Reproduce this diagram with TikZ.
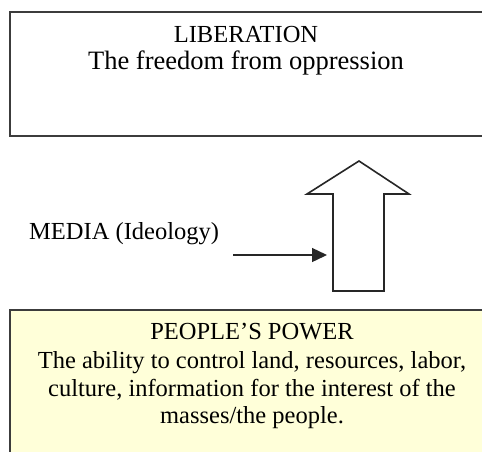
\documentclass[tikz,border=0pt]{standalone}
\usepackage{fontspec}
\setmainfont{Liberation Serif}
\usetikzlibrary{arrows.meta}
\definecolor{boxline}{RGB}{60,60,60}
\definecolor{paleyellow}{RGB}{255,255,217}
\tikzset{
  framebox/.style={draw=boxline, line width=1.6pt},
  label/.style={inner sep=0pt, anchor=base, text=black},
  bigarrow/.style={draw=black!85, line width=1.6pt, fill=white, line join=miter},
  pusharrow/.style={draw=black!85, line width=1.4pt, -{Triangle[length=15pt,width=14pt]}, shorten >=6pt}
}
\begin{document}
\begin{tikzpicture}[x=1pt,y=-1pt]
\useasboundingbox (0,0) rectangle (482,451);
\fill[white] (0,0) rectangle (482,451);
% top box
\draw[framebox] (10,12) rectangle (484,136);
\node[label] (lib) at (246,42) {\fontsize{24.5}{28}\selectfont LIBERATION};
\node[label] (libsub) at (246,69) {\fontsize{26.5}{28}\selectfont The freedom from oppression};
% bottom box
\draw[framebox, fill=paleyellow] (10,310) rectangle (490,460);
\node[label] (pp) at (252,339) {\fontsize{24.5}{28}\selectfont PEOPLE'S POWER};
\node[label] (pp1) at (252,368) {\fontsize{24.5}{28}\selectfont The ability to control land, resources, labor,};
\node[label] (pp2) at (252,396) {\fontsize{24.5}{28}\selectfont culture, information for the interest of the};
\node[label] (pp3) at (252,423) {\fontsize{24.5}{28}\selectfont masses/the people.};
% big arrow
\draw[bigarrow] (333,291) -- (333,194) -- (307,194) -- (359,161) -- (409,194) -- (384,194) -- (384,291) -- cycle;
\coordinate (shaft) at (333,255);
% media
\node[label, anchor=base west] (media) at (29,239) {\fontsize{24.5}{28}\selectfont MEDIA (Ideology)};
\coordinate (mstart) at (233,255);
\draw[pusharrow] (mstart) -- (shaft);
\end{tikzpicture}
\end{document}
